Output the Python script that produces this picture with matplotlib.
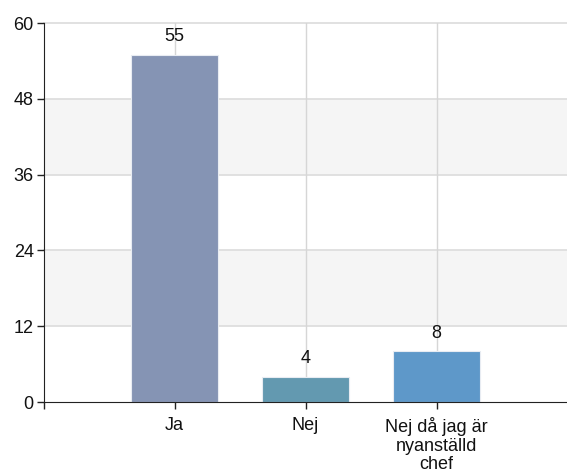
import matplotlib
matplotlib.use("Agg")
import matplotlib.pyplot as plt

categories = ["Ja", "Nej", "Nej då jag är\nnyanställd\nchef"]
values = [55, 4, 8]
colors = ["#8594b4", "#6399b0", "#5e98c9"]
yticks = [0, 12, 24, 36, 48, 60]

plt.rcParams['font.family'] = ['Liberation Sans', 'DejaVu Sans']
FS = 13

fig = plt.figure(figsize=(5.67, 4.73), dpi=100)
ax = fig.add_axes([43.5/567, 71/473, 524/567, 379/473])

ax.set_xlim(0, 4)
ax.set_ylim(0, 60)

# alternating bands
for i in range(len(yticks) - 1):
    if i % 2 == 1:
        ax.axhspan(yticks[i], yticks[i+1], color="#f5f5f5", zorder=0, lw=0)

for y in yticks[1:]:
    ax.axhline(y, color="#dcdcdc", lw=1.2, zorder=1, clip_on=False)
xs = list(range(1, len(categories) + 1))
for x in xs:
    ax.axvline(x, color="#d6d6d6", lw=1.0, zorder=1)

bars = ax.bar(xs, values, width=0.665, color=colors, edgecolor="#e8ecf2", linewidth=0.8, zorder=2)
for x, v in zip(xs, values):
    ax.annotate(str(v), (x, v), xytext=(0, 7), textcoords="offset points",
                ha="center", va="bottom", fontsize=FS, color="#111111", zorder=3)

ax.set_yticks(yticks)
ax.set_yticklabels([str(t) for t in yticks], fontsize=FS)
ax.set_xticks([0] + xs)
ax.set_xticklabels([""] + categories, fontsize=FS, linespacing=1.12)

for s in ["top", "right"]:
    ax.spines[s].set_visible(False)
ax.spines["left"].set_color("#222222")
ax.spines["bottom"].set_color("#222222")
ax.tick_params(axis="both", direction="out", length=5, color="#222222", width=1, labelcolor="#111111")
ax.tick_params(axis="y", pad=2)
ax.tick_params(axis="x", pad=6)

fig.savefig("out.png", dpi=100)
